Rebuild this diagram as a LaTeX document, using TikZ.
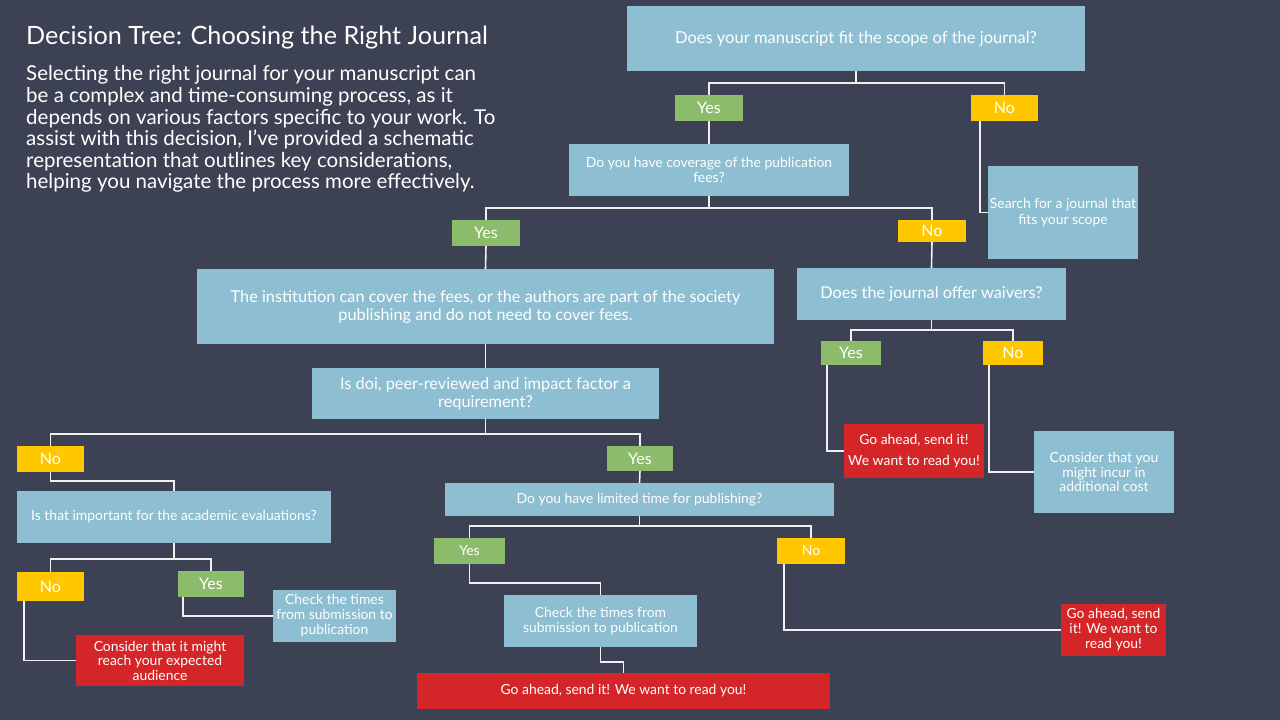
\documentclass[tikz,border=0pt]{standalone}
\usepackage{fontspec}
\setmainfont{Lato}
\definecolor{bg}{HTML}{3C4253}
\definecolor{boxblue}{HTML}{8DBED1}
\definecolor{yesgreen}{HTML}{8BBB6B}
\definecolor{noyellow}{HTML}{FFC700}
\definecolor{endred}{HTML}{D42628}
\definecolor{wire}{HTML}{F0F0F0}
\tikzset{
  base/.style={rectangle, inner sep=0pt, outer sep=0pt, text=white, align=center},
  qbox/.style={base, fill=boxblue},
  ybox/.style={base, fill=yesgreen},
  nbox/.style={base, fill=noyellow},
  rbox/.style={base, fill=endred},
  wireline/.style={draw=wire, line width=1.6pt},
}
\begin{document}
\begin{tikzpicture}[x=1pt,y=-1pt]
\useasboundingbox (0,0) rectangle (1280,720);
\fill[bg] (0,0) rectangle (1280,720);

% title and paragraph
\node[inner sep=0pt, anchor=west, text=white, font=\fontsize{25.2}{29}\selectfont] (title) at (26,38) {Decision Tree: Choosing the Right Journal};
\node[inner sep=0pt, anchor=north west, text=white, align=left, font=\fontsize{20.5}{21.6}\selectfont] (intro) at (26,65.5) {Selecting the right journal for your manuscript can\\be a complex and time-consuming process, as it\\depends on various factors specific to your work. To\\assist with this decision, I’ve provided a schematic\\representation that outlines key considerations,\\helping you navigate the process more effectively.};

% boxes
\node[qbox, minimum width=458, minimum height=65, font=\fontsize{16.5}{19}\selectfont] (A) at (856,38.5) {Does your manuscript fit the scope of the journal?};
\node[ybox, minimum width=68, minimum height=26, font=\fontsize{16}{18}\selectfont] (y1) at (709,108) {Yes};
\node[nbox, minimum width=67, minimum height=26, font=\fontsize{16}{18}\selectfont] (n1) at (1004.5,108) {No};
\node[qbox, minimum width=280, minimum height=52, font=\fontsize{13.9}{15}\selectfont] (B) at (709,170) {Do you have coverage of the publication\\fees?};
\node[qbox, minimum width=150, minimum height=93, font=\fontsize{13.9}{16}\selectfont] (S) at (1063,212.5) {Search for a journal that\\fits your scope};
\node[ybox, minimum width=68, minimum height=26, font=\fontsize{16}{18}\selectfont] (y2) at (486,233) {Yes};
\node[nbox, minimum width=68, minimum height=22, font=\fontsize{16}{18}\selectfont] (n2) at (932,231) {No};
\node[qbox, minimum width=577, minimum height=75, font=\fontsize{16.3}{18}\selectfont] (C) at (485.5,306.5) {The institution can cover the fees, or the authors are part of the society\\publishing and do not need to cover fees.};
\node[qbox, minimum width=269, minimum height=52, font=\fontsize{16.3}{18}\selectfont] (D) at (931.5,294) {Does the journal offer waivers?};
\node[ybox, minimum width=60, minimum height=24, font=\fontsize{16}{18}\selectfont] (y3) at (851,353) {Yes};
\node[nbox, minimum width=60, minimum height=24, font=\fontsize{16}{18}\selectfont] (n3) at (1013,353) {No};
\node[rbox, minimum width=140, minimum height=54, font=\fontsize{13.9}{21}\selectfont] (E) at (914,451) {Go ahead, send it!\\We want to read you!};
\node[qbox, minimum width=140, minimum height=82, font=\fontsize{13.9}{14.5}\selectfont] (F) at (1104,472) {Consider that you\\might incur in\\additional cost};
\node[qbox, minimum width=347, minimum height=51, font=\fontsize{16.3}{18}\selectfont] (G) at (485.5,393.5) {Is doi, peer-reviewed and impact factor a\\requirement?};
\node[nbox, minimum width=67, minimum height=26, font=\fontsize{16}{18}\selectfont] (n4) at (50.5,459) {No};
\node[ybox, minimum width=66, minimum height=25, font=\fontsize{16}{18}\selectfont] (y4) at (640,458.5) {Yes};
\node[qbox, minimum width=314, minimum height=52, font=\fontsize{13.9}{15}\selectfont] (H) at (174,517) {Is that important for the academic evaluations?};
\node[nbox, minimum width=67, minimum height=29, font=\fontsize{16}{18}\selectfont] (n5) at (50.5,586.5) {No};
\node[ybox, minimum width=66, minimum height=26, font=\fontsize{16}{18}\selectfont] (y5) at (211,584) {Yes};
\node[rbox, minimum width=168, minimum height=51, font=\fontsize{13.9}{14.5}\selectfont] (I) at (160,660.5) {Consider that it might\\reach your expected\\audience};
\node[qbox, minimum width=123, minimum height=52, font=\fontsize{13.9}{15}\selectfont] (J) at (334.5,616) {Check the times\\from submission to\\publication};
\node[qbox, minimum width=389, minimum height=33, font=\fontsize{13.9}{15}\selectfont] (K) at (639.5,499.5) {Do you have limited time for publishing?};
\node[ybox, minimum width=71, minimum height=26, font=\fontsize{13.9}{15}\selectfont] (y6) at (469.5,551) {Yes};
\node[nbox, minimum width=68, minimum height=26, font=\fontsize{13.9}{15}\selectfont] (n6) at (811,551) {No};
\node[qbox, minimum width=193, minimum height=52, font=\fontsize{13.9}{15}\selectfont] (L) at (600.5,621) {Check the times from\\submission to publication};
\node[rbox, minimum width=413, minimum height=36, font=\fontsize{13.9}{15}\selectfont] (M) at (623.5,691) {Go ahead, send it! We want to read you!};
\node[rbox, minimum width=105, minimum height=52, font=\fontsize{13.9}{15}\selectfont] (N) at (1113.5,630) {Go ahead, send\\it! We want to\\read you!};

% junction points
\coordinate (a1) at (856,83);
\coordinate (b1) at (709,208);
\coordinate (d1) at (931.5,330);
\coordinate (g1) at (485.5,434);
\coordinate (h1) at (174,559);
\coordinate (k1) at (639.5,526);

% connectors
\draw[wireline] (A.south) -- (a1) -| (y1.north);
\draw[wireline] (a1) -| (n1.north);
\draw[wireline] (y1.south) -- (B.north);
\draw[wireline] ([xshift=9pt]n1.south west) |- (S.west);
\draw[wireline] (B.south) -- (b1) -| (y2.north);
\draw[wireline] (b1) -| (n2.north);
\draw[wireline] (y2.south) -- (C.north);
\draw[wireline] (n2.south) -- (D.north);
\draw[wireline] (D.south) -- (d1) -| (y3.north);
\draw[wireline] (d1) -| (n3.north);
\draw[wireline] ([xshift=6pt]y3.south west) |- (E.west);
\draw[wireline] ([xshift=6pt]n3.south west) |- (F.west);
\draw[wireline] (C.south) -- (G.north);
\draw[wireline] (G.south) -- (g1) -| (n4.north);
\draw[wireline] (g1) -| (y4.north);
\draw[wireline] (n4.south) -- ++(0,9) -| (H.north);
\draw[wireline] (H.south) -- (h1) -| (n5.north);
\draw[wireline] (h1) -| (y5.north);
\draw[wireline] ([xshift=7pt]n5.south west) |- (I.west);
\draw[wireline] ([xshift=5pt]y5.south west) |- (J.west);
\draw[wireline] (y4.south) -- (K.north);
\draw[wireline] (K.south) -- (k1) -| (y6.north);
\draw[wireline] (k1) -| (n6.north);
\draw[wireline] (y6.south) -- ++(0,19) -| (L.north);
\draw[wireline] (L.south) -- ++(0,15) -| (M.north);
\draw[wireline] ([xshift=7pt]n6.south west) |- (N.west);
\end{tikzpicture}
\end{document}
